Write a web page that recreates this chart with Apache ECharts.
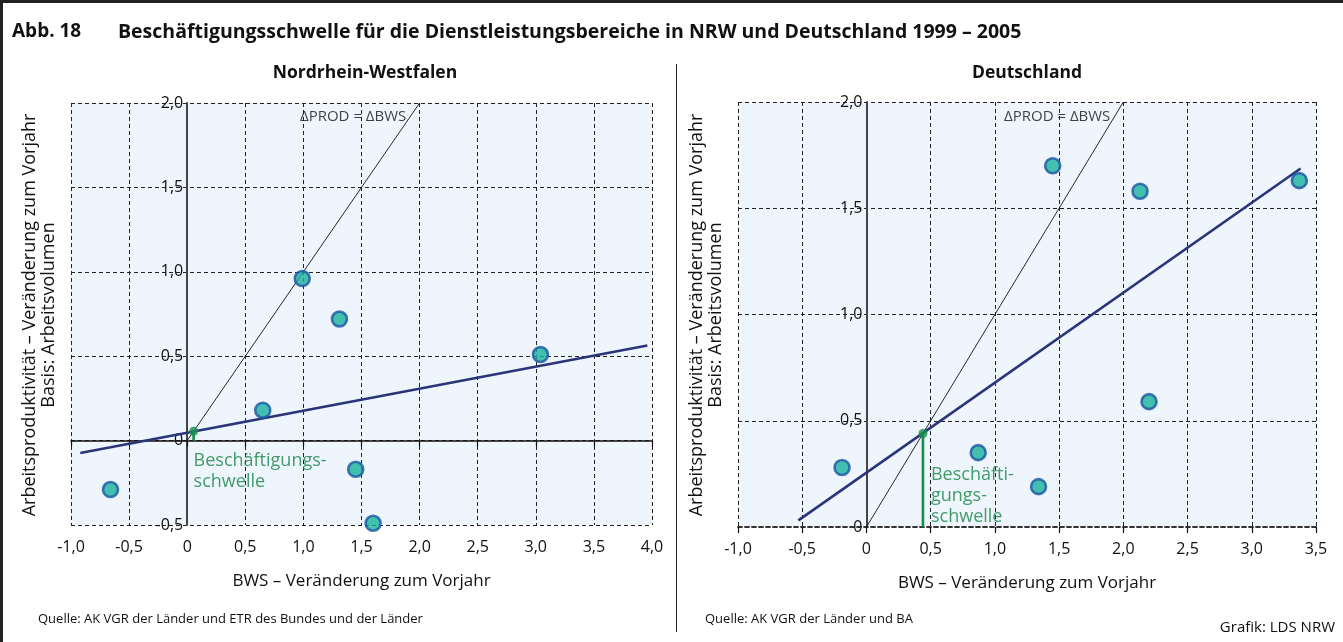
<!DOCTYPE html>
<html>
<head>
<meta charset="utf-8">
<script src="https://cdn.jsdelivr.net/npm/echarts@6/dist/echarts.min.js"></script>
<style>
  html, body { margin: 0; padding: 0; background: #ffffff; }
  #chart { width: 1343px; height: 642px; }
</style>
</head>
<body>
<div id="chart"></div>
<script>
// Nordrhein-Westfalen: BWS change vs. labour productivity change, 1999–2005
const nrwBWS  = [-0.66, 0.65, 0.99, 1.31, 1.45, 1.60, 3.04];
const nrwPROD = [-0.29, 0.18, 0.96, 0.72, -0.17, -0.49, 0.51];
// Deutschland
const deBWS   = [-0.19, 0.87, 1.34, 1.45, 2.13, 2.20, 3.37];
const dePROD  = [0.28, 0.35, 0.19, 1.70, 1.58, 0.59, 1.63];

// Regression lines (start / end)
const nrwTrend = [[-0.92, -0.073], [3.96, 0.563]];
const deTrend  = [[-0.53, 0.031], [3.38, 1.687]];
// ΔPROD = ΔBWS
const identityLine = [[0, 0], [2, 2]];
// Employment thresholds (intersection of trend and identity line)
const nrwThreshold = [0.055, 0.055];
const deThreshold  = [0.44, 0.44];

// Tick labels
const nrwXLabels = ['-1,0', '-0,5', '0', '0,5', '1,0', '1,5', '2,0', '2,5', '3,0', '3,5', '4,0'];
const nrwYLabels = ['-0,5', '0', '0,5', '1,0', '1,5', '2,0'];
const deXLabels  = ['-1,0', '-0,5', '0', '0,5', '1,0', '1,5', '2,0', '2,5', '3,0', '3,5'];
const deYLabels  = ['0', '0,5', '1,0', '1,5', '2,0'];

const FONT = 'Open Sans';
const STEP = 0.5;
const BG = '#EEF5FC';
const DOT_FILL = '#16B29B';
const DOT_EDGE = '#1C55A6';
const TREND = '#2A3478';
const GREEN = '#14904A';

const grids = [
  { left: 71, top: 103, width: 581, height: 422 },
  { left: 738, top: 102, width: 578, height: 425 }
];

function pick(labels, min) {
  return v => labels[Math.round((v - min) / STEP)] ?? '';
}
function zip(xs, ys) { return xs.map((x, i) => [x, ys[i]]); }

function panelAxes(gridIndex, xMin, xMax, yMin, yMax, xLabels, yLabels, zeroDashed) {
  const dashed = { show: true, lineStyle: { color: '#222', width: 1, type: [4, 3] } };
  const zeroLine = zeroDashed
    ? { color: '#333', width: 1.8, type: [4, 3] }
    : { color: '#111', width: 1.6 };
  const xs = [
    { // bottom axis: tick labels + vertical grid lines
      gridIndex, type: 'value', min: xMin, max: xMax, interval: STEP, position: 'bottom',
      axisLine: { show: false, onZero: false },
      axisTick: { show: false },
      axisLabel: { formatter: pick(xLabels, xMin), fontFamily: FONT, fontSize: 16, color: '#111', margin: 14 },
      splitLine: dashed,
      name: 'BWS – Veränderung zum Vorjahr', nameLocation: 'middle', nameGap: 48,
      nameTextStyle: { fontFamily: FONT, fontSize: 17, color: '#111' }
    },
    { // line at ΔPROD = 0
      gridIndex, type: 'value', min: xMin, max: xMax, interval: STEP, position: 'top',
      axisLine: { show: true, onZero: true, lineStyle: zeroLine },
      axisTick: { show: true, inside: true, length: 6, lineStyle: { color: '#111', width: 1.2 } },
      axisLabel: { show: false }, splitLine: { show: false }
    }
  ];
  const g = grids[gridIndex];
  const ys = [{
    gridIndex, type: 'value', min: yMin, max: yMax, interval: STEP, position: 'left',
    // shift the vertical axis onto ΔBWS = 0
    offset: -g.width * (0 - xMin) / (xMax - xMin),
    axisLine: { show: true, onZero: false, lineStyle: { color: '#444', width: 2 } },
    axisTick: { show: false },
    axisLabel: { formatter: pick(yLabels, yMin), fontFamily: FONT, fontSize: 16, color: '#111', margin: 4 },
    splitLine: dashed
  }];
  return { xs, ys };
}

const a0 = panelAxes(0, -1, 4, -0.5, 2, nrwXLabels, nrwYLabels, false);
const a1 = panelAxes(1, -1, 3.5, 0, 2, deXLabels, deYLabels, true);

function panelSeries(xAxisIndex, yAxisIndex, pts, trend, thr, labelText, labelOffset, annotY) {
  return [
    { type: 'line', xAxisIndex, yAxisIndex, data: identityLine, showSymbol: false, silent: true,
      lineStyle: { color: '#111', width: 0.9 }, z: 3 },
    { type: 'scatter', xAxisIndex, yAxisIndex, data: [[annotY, annotY]], symbolSize: 0, silent: true,
      label: { show: true, position: 'left', distance: 4, formatter: 'ΔPROD = ΔBWS',
               fontFamily: FONT, fontSize: 15, color: '#111' } },
    { type: 'line', xAxisIndex, yAxisIndex, data: trend, showSymbol: false, silent: true,
      lineStyle: { color: TREND, width: 2.6 }, z: 4 },
    { type: 'line', xAxisIndex, yAxisIndex, data: [thr, [thr[0], 0]], showSymbol: false, silent: true,
      lineStyle: { color: GREEN, width: 2.6 }, z: 5 },
    { type: 'scatter', xAxisIndex, yAxisIndex, data: [thr], symbolSize: 9, silent: true,
      itemStyle: { color: GREEN }, z: 6 },
    { type: 'scatter', xAxisIndex, yAxisIndex, data: [[thr[0], 0]], symbolSize: 0, silent: true,
      label: { show: true, position: labelOffset, align: 'left', verticalAlign: 'top',
               formatter: labelText, fontFamily: FONT, fontSize: 18, lineHeight: 21, color: '#178443' } },
    { type: 'scatter', xAxisIndex, yAxisIndex, data: pts, symbolSize: 15, silent: true,
      itemStyle: { color: DOT_FILL, borderColor: DOT_EDGE, borderWidth: 2.6 }, z: 7 }
  ];
}

const yName = 'Arbeitsproduktivität – Veränderung zum Vorjahr\nBasis: Arbeitsvolumen';

const chart = echarts.init(document.getElementById('chart'), null, { renderer: 'canvas' });
chart.setOption({
  animation: false,
  backgroundColor: '#ffffff',
  grid: grids.map(g => ({ ...g, show: true, backgroundColor: BG, borderWidth: 0 })),
  xAxis: [...a0.xs, ...a1.xs],
  yAxis: [...a0.ys, ...a1.ys],
  series: [
    ...panelSeries(0, 0, zip(nrwBWS, nrwPROD), nrwTrend, nrwThreshold,
                   'Beschäftigungs-\nschwelle', [0, 10], 1.92),
    ...panelSeries(2, 1, zip(deBWS, dePROD), deTrend, deThreshold,
                   'Beschäfti-\ngungs-\nschwelle', [8, -63], 1.93)
  ],
  graphic: [
    { type: 'rect', shape: { x: 0, y: 0, width: 1343, height: 3 }, style: { fill: '#222' } },
    { type: 'rect', shape: { x: 0, y: 0, width: 3, height: 642 }, style: { fill: '#222' } },
    { type: 'line', shape: { x1: 676.5, y1: 64, x2: 676.5, y2: 632 }, style: { stroke: '#222', lineWidth: 1 } },
    { type: 'text', x: 12, y: 32, style: { text: 'Abb. 18', font: `bold 19px "${FONT}"`, fill: '#111', textVerticalAlign: 'middle' } },
    { type: 'text', x: 118, y: 32, style: { text: 'Beschäftigungsschwelle für die Dienstleistungsbereiche in NRW und Deutschland 1999 – 2005', font: `bold 19.5px "${FONT}"`, fill: '#111', textVerticalAlign: 'middle' } },
    { type: 'text', x: 365, y: 73, style: { text: 'Nordrhein-Westfalen', font: `bold 17.5px "${FONT}"`, fill: '#111', textAlign: 'center', textVerticalAlign: 'middle' } },
    { type: 'text', x: 1027, y: 73, style: { text: 'Deutschland', font: `bold 17.5px "${FONT}"`, fill: '#111', textAlign: 'center', textVerticalAlign: 'middle' } },
    { type: 'text', x: 39, y: 315, rotation: Math.PI / 2, style: { text: yName, font: `18px "${FONT}"`, lineHeight: 19, fill: '#111', textAlign: 'center', textVerticalAlign: 'middle' } },
    { type: 'text', x: 706, y: 315, rotation: Math.PI / 2, style: { text: yName, font: `18px "${FONT}"`, lineHeight: 19, fill: '#111', textAlign: 'center', textVerticalAlign: 'middle' } },
    { type: 'text', x: 38, y: 619, style: { text: 'Quelle: AK VGR der Länder und ETR des Bundes und der Länder', font: `13px "${FONT}"`, fill: '#111', textVerticalAlign: 'middle' } },
    { type: 'text', x: 705, y: 619, style: { text: 'Quelle: AK VGR der Länder und BA', font: `13px "${FONT}"`, fill: '#111', textVerticalAlign: 'middle' } },
    { type: 'text', x: 1335, y: 628, style: { text: 'Grafik: LDS NRW', font: `15px "${FONT}"`, fill: '#111', textAlign: 'right', textVerticalAlign: 'middle' } }
  ]
});
</script>
</body>
</html>
